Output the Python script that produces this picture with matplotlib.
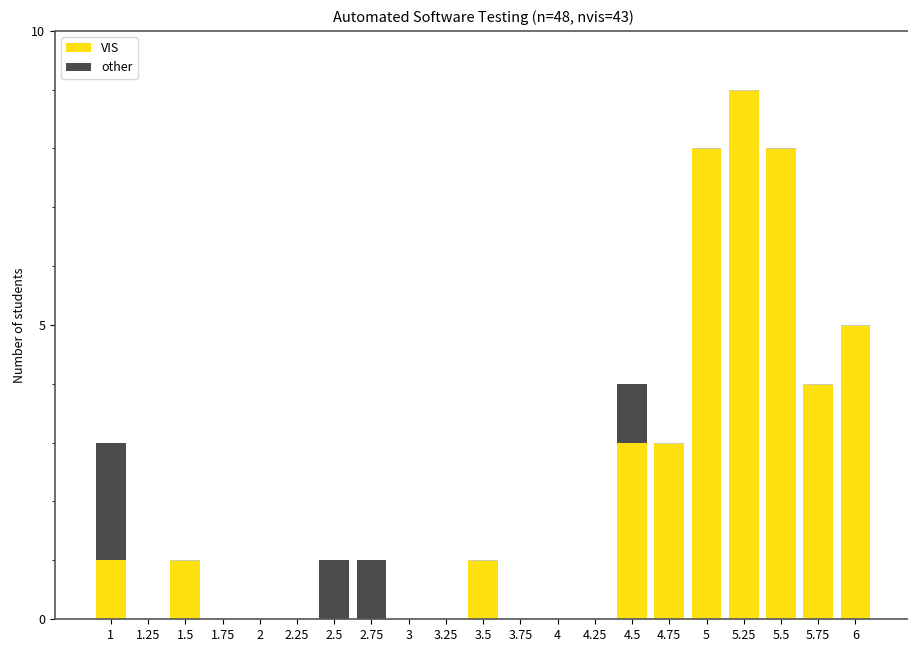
import matplotlib
matplotlib.use('Agg')
import matplotlib.pyplot as plt
from matplotlib.ticker import MultipleLocator

plt.rcParams['font.family'] = ['Noto Sans CJK SC', 'DejaVu Sans']

grades = ['1', '1.25', '1.5', '1.75', '2', '2.25', '2.5', '2.75', '3', '3.25', '3.5',
          '3.75', '4', '4.25', '4.5', '4.75', '5', '5.25', '5.5', '5.75', '6']
vis = [1, 0, 1, 0, 0, 0, 0, 0, 0, 0, 1, 0, 0, 0, 3, 3, 8, 9, 8, 4, 5]
other = [2, 0, 0, 0, 0, 0, 1, 1, 0, 0, 0, 0, 0, 0, 1, 0, 0, 0, 0, 0, 0]

fig = plt.figure(figsize=(9.08, 6.45), dpi=100)
ax = fig.add_axes([0.0606, 0.0403, 0.943, 0.912])

x = range(len(grades))
# empty "other" bars still leave a thin grey line on top, like the original
lw = [0.6 if o == 0 else 0 for o in other]
ax.bar(x, vis, width=0.8, color='#ffe00f', label='VIS', linewidth=0)
ax.bar(x, other, width=0.8, bottom=vis, color='#4d4a4b', label='other',
       edgecolor='#c8c8c8', linewidth=lw)

ax.set_xticks(list(x))
ax.set_xticklabels(grades)
ax.set_xlim(-1.5, 21.5)
ax.set_ylim(0, 10)
ax.yaxis.set_major_locator(MultipleLocator(5))
ax.yaxis.set_minor_locator(MultipleLocator(1))
ax.tick_params(labelsize=9)
ax.set_ylabel('Number of students', fontsize=9)
ax.set_title('Automated Software Testing (n=48, nvis=43)', fontsize=10.5)
for s in ax.spines.values():
    s.set_color('#555555')
    s.set_linewidth(1.2)
ax.spines['right'].set_visible(False)
ax.legend(loc='upper left', fontsize=9)

fig.savefig('out.png', dpi=100)
